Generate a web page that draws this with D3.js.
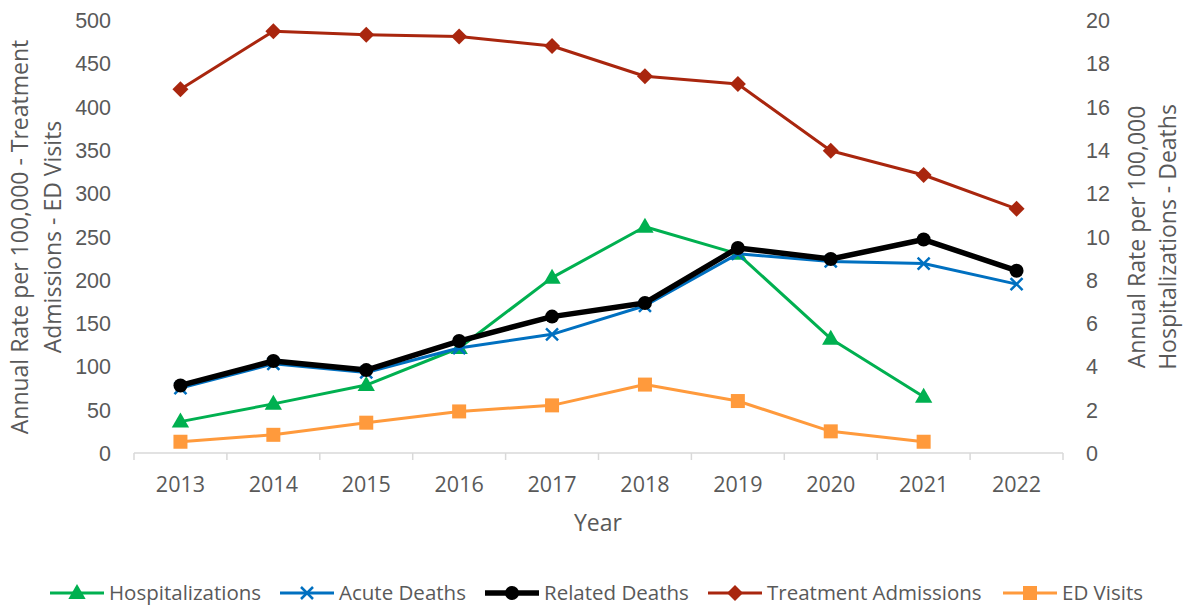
<!DOCTYPE html>
<html><head><meta charset="utf-8">
<title>Annual rates per 100,000</title>
<script src="https://cdn.jsdelivr.net/npm/d3@7/dist/d3.min.js"></script>
<style>
  body { margin: 0; background: #fff; }
  svg { display: block; font-family: "Open Sans", "Noto Sans", sans-serif; }
  .tick text { fill: #595959; font-size: 21.5px; }
  .axis-title { fill: #595959; font-size: 23px; }
  .legend text { fill: #595959; font-size: 20.5px; }
</style>
</head>
<body>
<svg width="1183" height="609"></svg>
<script>
  // data
  var years = ["2013","2014","2015","2016","2017","2018","2019","2020","2021","2022"];
  var hospitalizations = [1.45, 2.27, 3.14, 4.85, 8.1, 10.45, 9.2, 5.28, 2.6, null];
  var acuteDeaths      = [3.0, 4.12, 3.72, 4.85, 5.48, 6.8, 9.2, 8.85, 8.75, 7.8];
  var relatedDeaths    = [3.12, 4.25, 3.83, 5.17, 6.3, 6.93, 9.47, 8.96, 9.86, 8.42];
  var treatmentAdmissions = [420, 487, 483, 481, 470, 435, 426, 349, 321, 282];
  var edVisits         = [13, 21, 35, 48, 55, 79, 60, 25, 13, null];
  var leftTicks  = [0, 50, 100, 150, 200, 250, 300, 350, 400, 450, 500];
  var rightTicks = [0, 2, 4, 6, 8, 10, 12, 14, 16, 18, 20];

  var series = [
    {name: "Hospitalizations", values: hospitalizations, axis: "right", color: "#00b050", width: 3, marker: "triangle"},
    {name: "Acute Deaths", values: acuteDeaths, axis: "right", color: "#0070c0", width: 3, marker: "cross"},
    {name: "Related Deaths", values: relatedDeaths, axis: "right", color: "#000000", width: 5.5, marker: "circle"},
    {name: "Treatment Admissions", values: treatmentAdmissions, axis: "left", color: "#a9260e", width: 3, marker: "diamond"},
    {name: "ED Visits", values: edVisits, axis: "left", color: "#ff9a3c", width: 3, marker: "square"}
  ];

  //begin: layout conf.
  var plotLeft = 134, plotRight = 1063, plotTop = 20, plotBottom = 453;
  //end: layout conf.

  var svg = d3.select("svg");

  var x = d3.scaleBand().domain(years).range([plotLeft, plotRight]);
  var yLeft = d3.scaleLinear().domain([0, 500]).range([plotBottom, plotTop]);
  var yRight = d3.scaleLinear().domain([0, 20]).range([plotBottom, plotTop]);

  // x axis
  var xAxis = svg.append("g").attr("transform", "translate(0," + plotBottom + ")");
  xAxis.append("line").attr("x1", plotLeft).attr("x2", plotRight)
    .attr("stroke", "#d9d9d9").attr("stroke-width", 1.5);
  xAxis.selectAll(".tk").data(years.concat(["end"]))
    .enter().append("line")
      .attr("x1", function(d, i){ return plotLeft + i * x.step(); })
      .attr("x2", function(d, i){ return plotLeft + i * x.step(); })
      .attr("y1", 0).attr("y2", 7)
      .attr("stroke", "#d9d9d9").attr("stroke-width", 1.5);
  xAxis.selectAll(".lbl").data(years)
    .enter().append("text")
      .attr("x", function(d){ return x(d) + x.bandwidth() / 2; })
      .attr("y", 39)
      .attr("text-anchor", "middle")
      .style("fill", "#595959").style("font-size", "21.5px")
      .text(function(d){ return d; });

  // left axis
  var la = svg.append("g").attr("transform", "translate(" + (plotLeft - 23) + ",0)")
    .call(d3.axisLeft(yLeft).tickValues(leftTicks).tickSize(0).tickPadding(0));
  la.select(".domain").remove();
  la.selectAll("text").attr("dy", "0.35em");

  // right axis
  var ra = svg.append("g").attr("transform", "translate(" + (plotRight + 23) + ",0)")
    .call(d3.axisRight(yRight).tickValues(rightTicks).tickSize(0).tickPadding(0));
  ra.select(".domain").remove();
  ra.selectAll("text").attr("dy", "0.35em");

  // axis titles
  var lt = svg.append("text").attr("class", "axis-title")
    .attr("transform", "translate(28,237) rotate(-90)")
    .attr("text-anchor", "middle");
  lt.append("tspan").attr("x", 0).attr("dy", 0).text("Annual Rate per 100,000 - Treatment");
  lt.append("tspan").attr("x", 0).attr("dy", 33).text("Admissions - ED Visits");

  var rt = svg.append("text").attr("class", "axis-title")
    .attr("transform", "translate(1145,237) rotate(-90)")
    .attr("text-anchor", "middle");
  rt.append("tspan").attr("x", 0).attr("dy", 0).text("Annual Rate per 100,000");
  rt.append("tspan").attr("x", 0).attr("dy", 31).text("Hospitalizations - Deaths");

  svg.append("text").attr("class", "axis-title")
    .attr("x", 598).attr("y", 531).attr("text-anchor", "middle").text("Year");

  // markers
  function drawMarker(g, type, color) {
    if (type === "triangle") {
      g.append("path").attr("d", d3.symbol().type(d3.symbolTriangle).size(130)()).attr("transform", "translate(0,1)").attr("fill", color);
    } else if (type === "cross") {
      g.append("path").attr("d", "M-6,-6L6,6M-6,6L6,-6").attr("stroke", color).attr("stroke-width", 2.5).attr("fill", "none");
    } else if (type === "circle") {
      g.append("circle").attr("r", 7).attr("fill", color);
    } else if (type === "diamond") {
      g.append("path").attr("d", "M0,-8L8,0L0,8L-8,0Z").attr("fill", color);
    } else if (type === "square") {
      g.append("rect").attr("x", -7).attr("y", -7).attr("width", 14).attr("height", 14).attr("fill", color);
    }
  }

  var cx = function(i){ return x(years[i]) + x.bandwidth() / 2; };

  series.forEach(function(s) {
    var yS = s.axis === "left" ? yLeft : yRight;
    var pts = s.values.map(function(v, i){ return {i: i, v: v}; }).filter(function(p){ return p.v != null; });
    var line = d3.line().x(function(p){ return cx(p.i); }).y(function(p){ return yS(p.v); });
    var g = svg.append("g");
    g.append("path").datum(pts).attr("d", line)
      .attr("fill", "none").attr("stroke", s.color).attr("stroke-width", s.width)
      .attr("stroke-linejoin", "round");
    g.selectAll(".m").data(pts).enter().append("g")
      .attr("transform", function(p){ return "translate(" + cx(p.i) + "," + yS(p.v) + ")"; })
      .each(function(){ drawMarker(d3.select(this), s.marker, s.color); });
  });

  // legend
  var legendX = [50, 280, 485, 708, 1003];
  var legend = svg.append("g").attr("class", "legend").attr("transform", "translate(0,593)");
  series.forEach(function(s, i) {
    var g = legend.append("g").attr("transform", "translate(" + legendX[i] + ",0)");
    g.append("line").attr("x1", 0).attr("x2", 54).attr("stroke", s.color).attr("stroke-width", s.width);
    var m = g.append("g").attr("transform", "translate(27,0)");
    drawMarker(m, s.marker, s.color);
    g.append("text").attr("x", 59).attr("dy", "0.35em").text(s.name);
  });
</script>
</body></html>
